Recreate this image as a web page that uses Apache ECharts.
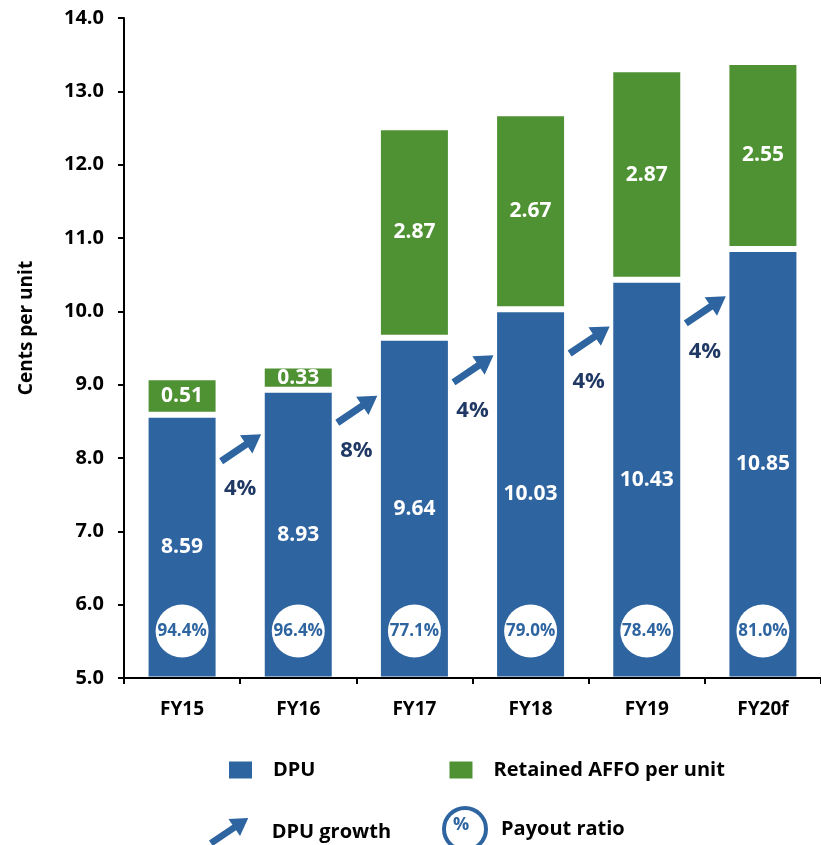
<!DOCTYPE html>
<html>
<head>
<meta charset="utf-8">
<script src="https://cdn.jsdelivr.net/npm/echarts@6/dist/echarts.min.js"></script>
<style>
  html, body { margin: 0; padding: 0; background: #fff; }
  #chart { width: 821px; height: 845px; }
</style>
</head>
<body>
<div id="chart"></div>
<script>
// ---- data ----
const categories = ['FY15', 'FY16', 'FY17', 'FY18', 'FY19', 'FY20f'];
const dpu = [8.59, 8.93, 9.64, 10.03, 10.43, 10.85];
const retainedAffo = [0.51, 0.33, 2.87, 2.67, 2.87, 2.55];
const payoutRatio = [94.4, 96.4, 77.1, 79.0, 78.4, 81.0];
const dpuGrowth = [4, 8, 4, 4, 4];
const yTicks = { min: 5, max: 14, step: 1 };

// ---- styling ----
const BLUE = '#2E64A0';
const GREEN = '#4F9234';
const NAVY = '#1F3864';
const FONT = '"Open Sans", "Noto Sans", sans-serif';
const ARROW = 'path://M3.96,29.9L28.8,13.13L32.99,19.34L41.74,0.17L20.69,1.12L24.88,7.33L0.04,24.1Z';
const CIRCLE_LEVEL = 5.64;     // vertical level of payout badges (axis units)
const ARROW_DROP = 0.64;       // arrows sit below the mean of neighbouring bar tops

const growthData = dpuGrowth.map((g, i) => [i + 0.5, (dpu[i] + dpu[i + 1]) / 2 - ARROW_DROP, g]);
const payoutData = payoutRatio.map((p, i) => [i, CIRCLE_LEVEL, p]);

const legendText = { color: '#000', fontWeight: 'bold', fontSize: 20, fontFamily: FONT };

const chart = echarts.init(document.getElementById('chart'));
chart.setOption({
  animation: false,
  textStyle: { fontFamily: FONT },
  grid: { left: 124, top: 18, width: 700, height: 660 },
  xAxis: [{
    type: 'category',
    data: categories,
    z: 10,
    axisLine: { lineStyle: { color: '#000', width: 2 } },
    axisTick: { show: true, length: 6, lineStyle: { color: '#000', width: 2 } },
    axisLabel: { color: '#000', fontWeight: 'bold', fontSize: 19, margin: 22, fontFamily: FONT }
  }, {
    type: 'value', min: -0.5, max: 5.5, show: false
  }],
  yAxis: {
    type: 'value',
    min: yTicks.min, max: yTicks.max, interval: yTicks.step,
    name: 'Cents per unit',
    nameLocation: 'middle',
    nameGap: 88,
    nameTextStyle: { color: '#000', fontWeight: 'bold', fontSize: 19, fontFamily: FONT, padding: [0, 0, 0, 40] },
    axisLine: { show: true, onZero: false, lineStyle: { color: '#000', width: 2 } },
    axisTick: { show: true, length: 6, lineStyle: { color: '#000', width: 2 } },
    axisLabel: { color: '#000', fontWeight: 'bold', fontSize: 20, margin: 20, fontFamily: FONT,
                 formatter: v => v.toFixed(1) },
    splitLine: { show: false }
  },
  legend: [{
    data: ['DPU', 'Retained AFFO per unit'],
    left: 229, top: 760, padding: 0,
    icon: 'rect', itemWidth: 23, itemHeight: 17, itemGap: 134,
    itemStyle: { borderWidth: 0 },
    textStyle: Object.assign({ padding: [0, 0, 0, 16] }, legendText),
    selectedMode: false
  }, {
    data: [{ name: 'DPU growth', icon: ARROW }],
    left: 209, top: 818, padding: 0,
    itemWidth: 44, itemHeight: 28,
    itemStyle: { color: BLUE, borderWidth: 0 },
    textStyle: Object.assign({ padding: [0, 0, 0, 16] }, legendText),
    selectedMode: false
  }, {
    data: [{ name: 'Payout ratio', icon: 'circle',
             itemStyle: { color: '#fff', borderColor: BLUE, borderWidth: 4 } }],
    left: 442, top: 806, padding: 0,
    itemWidth: 42, itemHeight: 42,
    textStyle: Object.assign({ padding: [10, 0, 0, 10] }, legendText),
    selectedMode: false
  }],
  graphic: [{
    type: 'text', left: 453, top: 816, z: 100,
    style: { text: '%', fill: BLUE, font: 'bold 18px ' + FONT }
  }],
  series: [{
    name: 'DPU',
    type: 'bar',
    stack: 'total',
    data: dpu,
    barWidth: 73,
    itemStyle: { color: BLUE, borderColor: '#fff', borderWidth: 3 },
    label: { show: true, position: 'inside', color: '#fff', fontWeight: 'bold', fontSize: 21, fontFamily: FONT,
             formatter: p => dpu[p.dataIndex].toFixed(2) }
  }, {
    name: 'Retained AFFO per unit',
    type: 'bar',
    stack: 'total',
    data: retainedAffo,
    barWidth: 73,
    itemStyle: { color: GREEN, borderColor: '#fff', borderWidth: 3 },
    label: { show: true, position: 'inside', color: '#fff', fontWeight: 'bold', fontSize: 21, fontFamily: FONT,
             formatter: p => retainedAffo[p.dataIndex].toFixed(2) }
  }, {
    name: 'Payout ratio',
    type: 'scatter',
    xAxisIndex: 0,
    data: payoutData,
    symbol: 'circle',
    symbolSize: 53,
    z: 5,
    itemStyle: { color: '#fff', opacity: 1 },
    label: { show: true, position: 'inside', color: BLUE, fontWeight: 'bold', fontSize: 17, fontFamily: FONT,
             formatter: p => p.data[2].toFixed(1) + '%' }
  }, {
    name: 'DPU growth',
    type: 'scatter',
    xAxisIndex: 1,
    data: growthData,
    symbol: ARROW,
    symbolSize: [42, 30],
    z: 5,
    itemStyle: { color: BLUE, opacity: 1 },
    label: { show: true, position: 'bottom', distance: 14, color: NAVY, fontWeight: 'bold', fontSize: 22, fontFamily: FONT,
             formatter: p => p.data[2] + '%' }
  }]
});
</script>
</body>
</html>
